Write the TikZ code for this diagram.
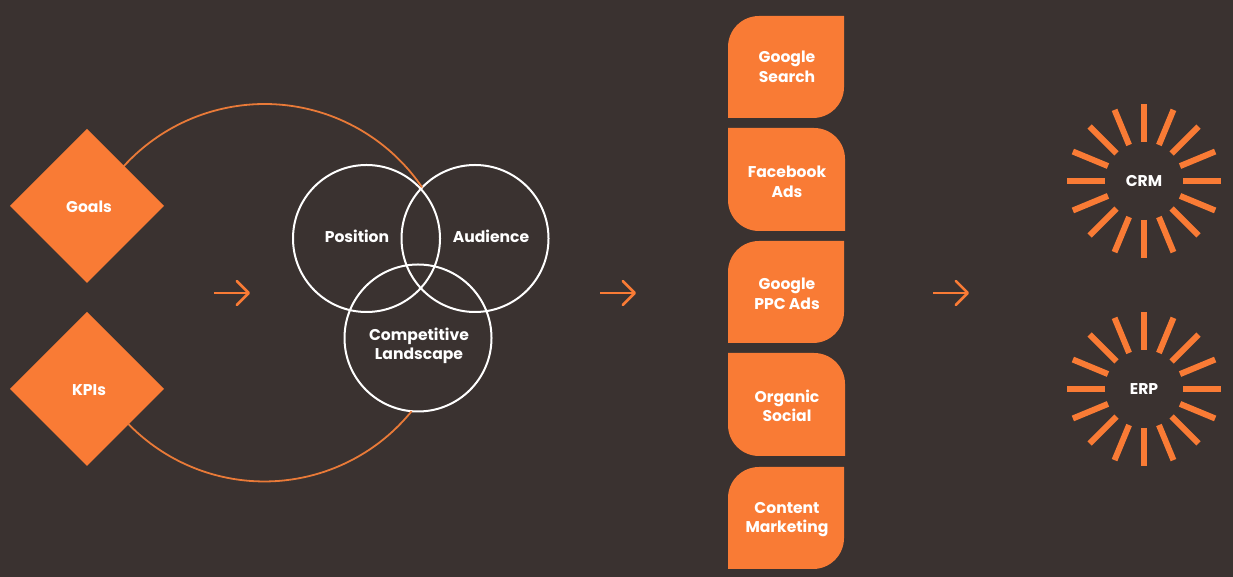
\documentclass[tikz,border=0pt]{standalone}
\usepackage{fontspec}
\setmainfont{Poppins}
\usepackage{tikz}
\usetikzlibrary{shapes.geometric,arrows.meta}
\definecolor{bgdark}{HTML}{3A3230}
\definecolor{brandorange}{HTML}{F97B35}
\definecolor{arcorange}{HTML}{E97A38}
\tikzset{
  lab/.style={text=white,font=\fontsize{15.6}{19.5}\selectfont\bfseries,align=center,inner sep=0pt},
  goalbox/.style={diamond,aspect=1,fill=brandorange,minimum size=154pt,inner sep=0pt,outer sep=0pt},
  venn/.style={circle,draw=white,line width=2pt,minimum size=147pt,inner sep=0pt,outer sep=0pt},
  orbit/.style={draw=arcorange,line width=1.8pt},
  flow/.style={draw=brandorange,line width=2.5pt,-{Straight Barb[length=12pt,width=24pt,round]}},
  ray/.style={draw=brandorange,line width=6pt}
}
% two kinds of card: rounded at top left and bottom right, or the other way
\newcommand{\cardleft}[2]{\fill[brandorange] (728,#1-31) arc[start angle=180,end angle=90,radius=31pt] -- (844,#1) -- (844,#2+31) arc[start angle=0,end angle=-90,radius=31pt] -- (728,#2) -- cycle;}
\newcommand{\cardright}[2]{\fill[brandorange] (728,#1) -- (814,#1) arc[start angle=90,end angle=0,radius=31pt] -- (845,#2) -- (759,#2) arc[start angle=270,end angle=180,radius=31pt] -- cycle;}
\begin{document}
\begin{tikzpicture}[x=1pt,y=1pt]
\useasboundingbox (0,0) rectangle (1233,577);
\fill[bgdark] (0,0) rectangle (1233,577);

\node[goalbox] (goals) at (87,371) {};
\node[goalbox] (kpis) at (87,188) {};
\node[lab] (goalstext) at (89,370) {Goals};
\node[lab] (kpistext) at (89,187) {KPIs};

\node[venn] (position) at (366.5,338.5) {};
\node[venn] (audience) at (475,338.5) {};
\node[venn] (landscape) at (418,239) {};
\node[lab] (positiontext) at (357,341) {Position};
\node[lab] (audiencetext) at (491,341) {Audience};
\node[lab] (landscapetext) at (419,231) {Competitive\\Landscape};

\draw[orbit] (audience.136) arc[start angle=34.2,end angle=137.7,radius=190.5pt];
\draw[orbit] (landscape.265) arc[start angle=321,end angle=224.2,radius=189.5pt];

\coordinate (flowastart) at (214,284);
\coordinate (flowaend) at (250,284);
\coordinate (flowbstart) at (600,284);
\coordinate (flowbend) at (636,284);
\coordinate (flowcstart) at (933,284);
\coordinate (flowcend) at (969,284);
\draw[flow] (flowastart) -- (flowaend);
\draw[flow] (flowbstart) -- (flowbend);
\draw[flow] (flowcstart) -- (flowcend);

\cardleft{561}{459}
\cardright{449}{346}
\cardleft{336}{234}
\cardright{224}{121}
\cardleft{110}{8}
\node[lab] (search) at (787,510) {Google\\Search};
\node[lab] (facebook) at (787,395) {Facebook\\Ads};
\node[lab] (ppc) at (787,283) {Google\\PPC Ads};
\node[lab] (social) at (787,171) {Organic\\Social};
\node[lab] (content) at (787,57.5) {Content\\Marketing};

\node[lab] (crm) at (1144,396) {CRM};
\node[lab] (erp) at (1144,188) {ERP};
\foreach \a in {0,22.5,...,337.5} {
  \draw[ray] (crm) ++(\a:39) -- ++(\a:38);
  \draw[ray] (erp) ++(\a:39) -- ++(\a:38);
}
\end{tikzpicture}
\end{document}
